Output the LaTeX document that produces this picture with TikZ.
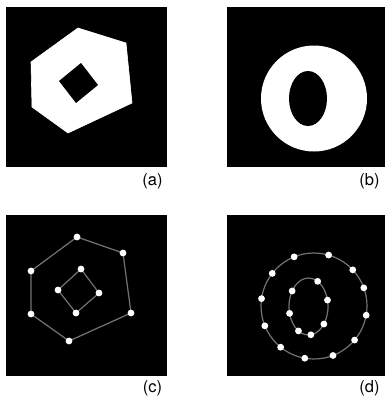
\documentclass[tikz,border=0pt]{standalone}
\usepackage{fontspec}
\setmainfont{TeX Gyre Heros}
\usetikzlibrary{calc}
\begin{document}
\begin{tikzpicture}[x=1pt,y=-1pt,
  panel/.style={fill=black},
  blob/.style={fill=white,draw=white,line width=0.6pt},
  hole/.style={fill=black},
  edge/.style={draw=gray!90!black,line width=1.2pt},
  dot/.style={circle,fill=white,inner sep=0pt,minimum size=6.8pt},
  lab/.style={font=\fontsize{16.5}{18}\selectfont,inner sep=0pt}]
\useasboundingbox (0,0) rectangle (385,402);
% panel backgrounds
\fill[panel] (6,7) rectangle (167,167);
\fill[panel] (227,7) rectangle (384.5,167);
\fill[panel] (6,215) rectangle (167,376);
\fill[panel] (227,215) rectangle (384.5,376);
% (a) hexagon with diamond hole
\filldraw[blob] (78,28) -- (126,43) -- (132,103) -- (68,133) -- (32,107) -- (31,62) -- cycle;
\fill[hole] (81,63) -- (98,85) -- (76,103) -- (59,81) -- cycle;
% (b) ring with elliptic hole
\fill[white] (314,98.5) circle (53);
\fill[hole] (308,98.5) ellipse (19 and 27.5);
% (c) polygon contour points
\coordinate (c1) at (77,237);
\coordinate (c2) at (123,253);
\coordinate (c3) at (131,313);
\coordinate (c4) at (69,341);
\coordinate (c5) at (31,314);
\coordinate (c6) at (31,271);
\coordinate (i1) at (81,269);
\coordinate (i2) at (99,293);
\coordinate (i3) at (76,313);
\coordinate (i4) at (58,290);
\draw[edge] (c1) -- (c2) -- (c3) -- (c4) -- (c5) -- (c6) -- cycle;
\draw[edge] (i1) -- (i2) -- (i3) -- (i4) -- cycle;
\foreach \n in {c1,c2,c3,c4,c5,c6,i1,i2,i3,i4}
  \node[dot] (d\n) at (\n) {};
% (d) circle contour points
\coordinate (oc) at (314,306);
\coordinate (ic) at (308.5,306.5);
\draw[edge] (oc) circle (53);
\draw[edge] (ic) ellipse (19.5 and 28.5);
\foreach \a [count=\k] in {112,74,43,20,-10,-40,-69,-100,-129,-158,172,142}
  \node[dot] (o\k) at ($(oc)+({53*cos(\a)},{-53*sin(\a)})$) {};
\foreach \a [count=\k] in {62,13,-38,-83,-121,-166,147}
  \node[dot] (e\k) at ($(ic)+({19.5*cos(\a)},{-28.5*sin(\a)})$) {};
% labels
\node[lab] (la) at (152.5,181) {(a)};
\node[lab] (lb) at (369.5,181) {(b)};
\node[lab] (lc) at (152.5,388.5) {(c)};
\node[lab] (ld) at (369.5,388.5) {(d)};
\end{tikzpicture}
\end{document}
